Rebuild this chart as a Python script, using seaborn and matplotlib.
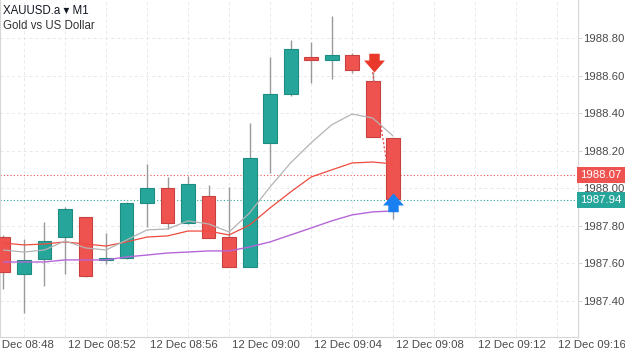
import matplotlib
matplotlib.use("Agg")
import matplotlib.pyplot as plt
import seaborn as sns
import pandas as pd
from matplotlib.path import Path
from matplotlib.transforms import blended_transform_factory

# ---------------- data ----------------
times = ["08:47", "08:48", "08:49", "08:50", "08:51", "08:52", "08:53", "08:54",
         "08:55", "08:56", "08:57", "08:58", "08:59", "09:00", "09:01", "09:02",
         "09:03", "09:04", "09:05", "09:06"]
opens = [1987.740, 1987.544, 1987.624, 1987.741, 1987.848, 1987.619, 1987.629, 1987.923,
         1988.003, 1987.816, 1987.960, 1987.741, 1987.581, 1988.243, 1988.504, 1988.700,
         1988.685, 1988.712, 1988.573, 1988.269]
highs = [1987.750, 1987.731, 1987.821, 1987.900, 1987.850, 1987.763, 1987.928, 1988.131,
         1988.061, 1988.067, 1988.020, 1988.010, 1988.349, 1988.700, 1988.792, 1988.780,
         1988.920, 1988.723, 1988.620, 1988.270]
lows = [1987.464, 1987.336, 1987.480, 1987.544, 1987.530, 1987.597, 1987.625, 1987.795,
        1987.784, 1987.810, 1987.736, 1987.581, 1987.580, 1988.083, 1988.493, 1988.563,
        1988.584, 1988.616, 1988.275, 1987.835]
closes = [1987.555, 1987.619, 1987.720, 1987.891, 1987.533, 1987.629, 1987.923, 1988.003,
          1987.816, 1988.024, 1987.736, 1987.581, 1988.163, 1988.504, 1988.744, 1988.685,
          1988.712, 1988.632, 1988.275, 1987.944]
ma_fast = [1987.672, 1987.661, 1987.672, 1987.720, 1987.683, 1987.672, 1987.725, 1987.779,
           1987.784, 1987.827, 1987.811, 1987.768, 1987.869, 1988.008, 1988.136, 1988.243,
           1988.339, 1988.397, 1988.376, 1988.280]
ma_mid = [1987.709, 1987.699, 1987.704, 1987.715, 1987.704, 1987.693, 1987.715, 1987.741,
          1987.747, 1987.773, 1987.773, 1987.752, 1987.805, 1987.896, 1987.981, 1988.061,
          1988.099, 1988.136, 1988.141, 1988.131]
ma_slow = [1987.608, 1987.608, 1987.608, 1987.619, 1987.619, 1987.619, 1987.635, 1987.645,
           1987.656, 1987.661, 1987.667, 1987.667, 1987.688, 1987.715, 1987.752, 1987.789,
           1987.827, 1987.859, 1987.875, 1987.880]
x_tick_times = ["08:48", "08:52", "08:56", "09:00", "09:04", "09:08", "09:12", "09:16"]
x_tick_labels = ["12 Dec 08:48", "12 Dec 08:52", "12 Dec 08:56", "12 Dec 09:00",
                 "12 Dec 09:04", "12 Dec 09:08", "12 Dec 09:12", "12 Dec 09:16"]
y_ticks = [1987.40, 1987.60, 1987.80, 1988.00, 1988.20, 1988.40, 1988.60, 1988.80]
bid_price = 1988.07
ask_price = 1987.94
sell_time, sell_price = "09:05", 1988.62
buy_time, buy_price = "09:06", 1987.975
symbol_title = "XAUUSD.a \u25BE M1"
symbol_desc = "Gold vs US Dollar"

UP = "#26a69a"
DOWN = "#ef5350"
FS = 8.2


def to_min(s):
    h, m = s.split(":")
    return int(h) * 60 + int(m) - 8 * 60


x = [to_min(t) for t in times]
df = pd.DataFrame({"t": x, "open": opens, "high": highs, "low": lows, "close": closes,
                   "fast": ma_fast, "mid": ma_mid, "slow": ma_slow})

sns.set_theme(style="white")
plt.rcParams["font.family"] = ["Liberation Sans", "DejaVu Sans"]

fig = plt.figure(figsize=(6.25, 3.52), dpi=100)
ax = fig.add_axes([0.0, 15 / 352, 578 / 625, 337 / 352])

ax.set_xlim(46.83, 75.02)
ax.set_ylim(1987.208, 1989.005)

# grid
for t in range(48, 75, 2):
    ax.axvline(t, color="#e8e8e8", lw=0.7, ls=(0, (3, 3)), zorder=0)
for yv in y_ticks:
    ax.axhline(yv, color="#e8e8e8", lw=0.7, ls=(0, (3, 3)), zorder=0)

# candles
colors = [UP if c >= o else DOWN for o, c in zip(df["open"], df["close"])]
edges = ["#1f8c82" if c >= o else "#c8413e" for o, c in zip(df["open"], df["close"])]
ax.vlines(df["t"], df["low"], df["high"], color="#9a9a9a", lw=1.0, zorder=2)
bottoms = [min(o, c) for o, c in zip(df["open"], df["close"])]
heights = [max(abs(c - o), 0.008) for o, c in zip(df["open"], df["close"])]
ax.bar(df["t"], heights, bottom=bottoms, width=0.68, color=colors,
       edgecolor=edges, linewidth=0.8, zorder=3)

# moving averages
sns.lineplot(data=df, x="t", y="slow", ax=ax, color="#b566d8", lw=1.0, zorder=4)
sns.lineplot(data=df, x="t", y="mid", ax=ax, color="#ef4b3f", lw=0.9, zorder=4)
sns.lineplot(data=df, x="t", y="fast", ax=ax, color="#b4b4b4", lw=0.9, zorder=4)

# price lines
ax.axhline(bid_price, color=DOWN, lw=0.8, ls=(0, (1, 2)), zorder=1)
ax.axhline(ask_price, color=UP, lw=0.8, ls=(0, (1, 2)), zorder=1)

# trade line and arrows
ax.plot([to_min(sell_time), to_min(buy_time) - 0.08], [sell_price, buy_price],
        color=DOWN, lw=1.0, ls=(0, (1.5, 1.5)), zorder=5)
down_arrow = Path([(0, 0), (1.0, 1.15), (0.5, 1.15), (0.5, 1.8), (-0.5, 1.8),
                   (-0.5, 1.15), (-1.0, 1.15), (0, 0)],
                  [Path.MOVETO] + [Path.LINETO] * 6 + [Path.CLOSEPOLY])
up_arrow = Path([(0, 0), (1.0, -1.15), (0.5, -1.15), (0.5, -1.8), (-0.5, -1.8),
                 (-0.5, -1.15), (-1.0, -1.15), (0, 0)],
                [Path.MOVETO] + [Path.LINETO] * 6 + [Path.CLOSEPOLY])
ax.plot([to_min(sell_time) + 0.07], [sell_price], marker=down_arrow, markersize=27,
        color="#e8392b", markeredgewidth=0, ls="none", zorder=6)
ax.plot([to_min(buy_time)], [buy_price], marker=up_arrow, markersize=27,
        color="#1a7ff0", markeredgewidth=0, ls="none", zorder=6)

# axes styling
ax.set_xlabel("")
ax.set_ylabel("")
ax.yaxis.tick_right()
ax.set_yticks(y_ticks)
ax.set_yticklabels([f"{v:.2f}" for v in y_ticks])
ax.set_xticks([to_min(t) - 0.2 for t in x_tick_times[:-1]])
ax.set_xticklabels(x_tick_labels[:-1])
ax.tick_params(axis="y", right=True, length=3, width=0.6, color="#cfcfcf",
               labelsize=FS, labelcolor="#4a4a4a", pad=1.0)
ax.tick_params(axis="x", bottom=False, length=0, labelsize=FS,
               labelcolor="#4a4a4a", pad=2.5)
for s in ["left", "right", "bottom"]:
    ax.spines[s].set_color("#d6d6d6")
    ax.spines[s].set_linewidth(0.8)
ax.spines["top"].set_visible(False)

# last time label lies under the price scale
trans_x = blended_transform_factory(ax.transData, ax.transAxes)
ax.annotate(x_tick_labels[-1], xy=(to_min(x_tick_times[-1]) - 0.3, 0.0), xycoords=trans_x,
            xytext=(0, -2.5), textcoords="offset points", ha="center", va="top",
            fontsize=FS, color="#4a4a4a", annotation_clip=False)

# price labels
trans_y = blended_transform_factory(ax.transAxes, ax.transData)
for price, col in [(bid_price, DOWN), (ask_price, UP)]:
    ax.text(1.004, price, f"{price:.2f}", transform=trans_y, ha="left", va="center",
            fontsize=FS, color="white", clip_on=False, zorder=10,
            bbox=dict(boxstyle="square,pad=0.25", fc=col, ec="none"))

# title
fig.text(3 / 625, 1 - 11 / 352, symbol_title, ha="left", va="center",
         fontsize=8.3, color="#131722")
fig.text(3 / 625, 1 - 26 / 352, symbol_desc, ha="left", va="center",
         fontsize=8.3, color="#333333")

fig.savefig("out.png", dpi=100)
